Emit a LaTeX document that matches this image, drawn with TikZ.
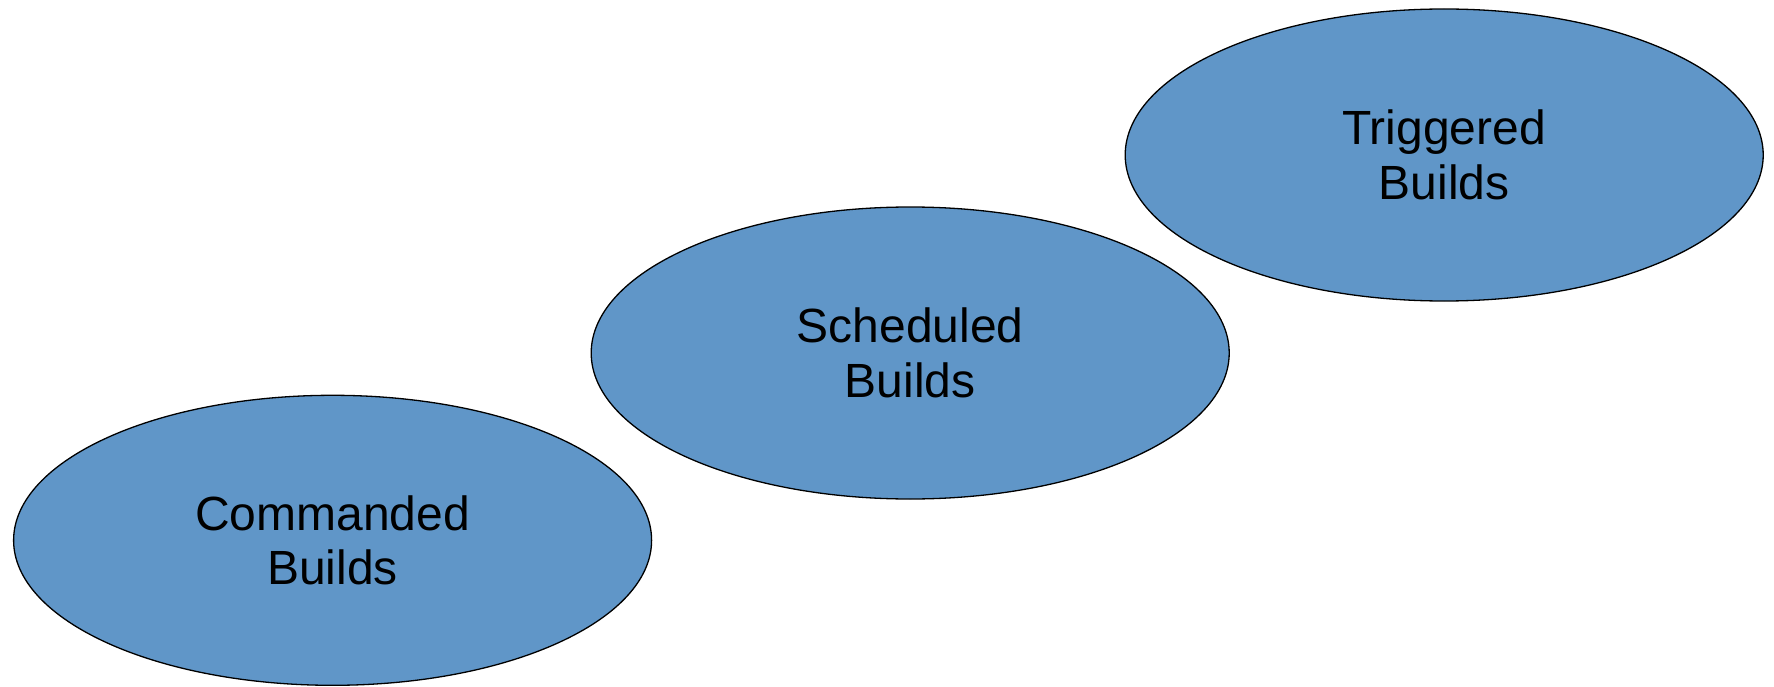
\documentclass[tikz,border=0pt]{standalone}
\usepackage{fontspec}
\setmainfont{Liberation Sans}
\usetikzlibrary{shapes.geometric}
\definecolor{buildblue}{RGB}{96,150,200}
\tikzset{
  buildellipse/.style={ellipse, draw=black, line width=1.3pt, fill=buildblue,
    minimum width=638pt, minimum height=290pt, inner sep=0pt, align=center,
    font=\fontsize{48pt}{54.6pt}\selectfont}
}
\begin{document}
\begin{tikzpicture}[x=1pt,y=-1pt]
\useasboundingbox (0,0) rectangle (1774,687);
\node[buildellipse] (commanded) at (332.6,540.3) {Commanded\\Builds};
\node[buildellipse, minimum height=292pt] (scheduled) at (910.2,353) {Scheduled\\Builds};
\node[buildellipse, minimum height=292pt] (triggered) at (1444.2,155) {Triggered\\Builds};
\end{tikzpicture}
\end{document}
